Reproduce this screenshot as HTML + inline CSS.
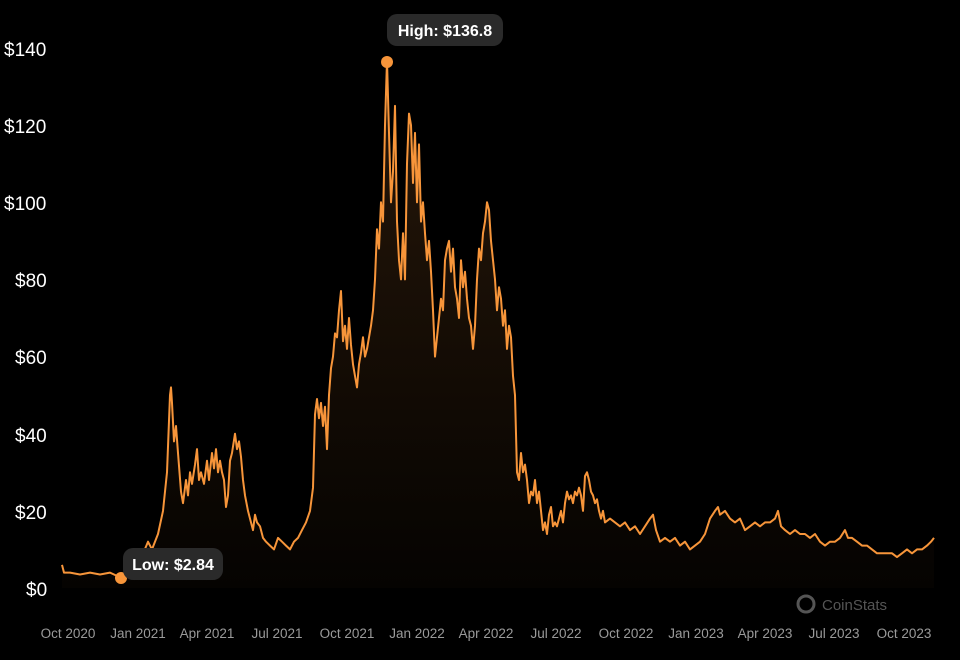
<!DOCTYPE html>
<html><head><meta charset="utf-8"><style>
html,body{margin:0;padding:0;background:#000;}
body{width:960px;height:655px;overflow:hidden;font-family:"Liberation Sans",sans-serif;}
</style></head><body>
<svg id="s" width="960" height="655" viewBox="0 0 960 655" xmlns="http://www.w3.org/2000/svg">
<defs>
<linearGradient id="g" x1="0" y1="0" x2="0" y2="1">
<stop offset="0" stop-color="#f7953a" stop-opacity="0.16"/>
<stop offset="1" stop-color="#f7953a" stop-opacity="0.02"/>
</linearGradient>
</defs>
<g font-size="19" fill="#fff" font-family="Liberation Sans, sans-serif">
<text x="4" y="56">$140</text>
<text x="4" y="133">$120</text>
<text x="4" y="210">$100</text>
<text x="15" y="287">$80</text>
<text x="15" y="364">$60</text>
<text x="15" y="442">$40</text>
<text x="15" y="519">$20</text>
<text x="26" y="596">$0</text>
</g>
<g font-size="13.5" fill="#9a9a9a" text-anchor="middle" font-family="Liberation Sans, sans-serif">
<text x="68" y="638">Oct 2020</text>
<text x="138" y="638">Jan 2021</text>
<text x="207" y="638">Apr 2021</text>
<text x="277" y="638">Jul 2021</text>
<text x="347" y="638">Oct 2021</text>
<text x="417" y="638">Jan 2022</text>
<text x="486" y="638">Apr 2022</text>
<text x="556" y="638">Jul 2022</text>
<text x="626" y="638">Oct 2022</text>
<text x="696" y="638">Jan 2023</text>
<text x="765" y="638">Apr 2023</text>
<text x="834" y="638">Jul 2023</text>
<text x="904" y="638">Oct 2023</text>
</g>
<path id="area" fill="url(#g)"/>
<path id="line" fill="none" stroke="#f7953a" stroke-width="2" stroke-linejoin="round"/>
<circle cx="121" cy="578" r="6" fill="#f7953a"/>
<circle cx="387" cy="62" r="6" fill="#f7953a"/>
<rect x="123" y="548" width="100" height="32" rx="10" fill="#2a2a2a"/>
<text x="173" y="570" font-size="16" font-weight="bold" fill="#fff" text-anchor="middle">Low: $2.84</text>
<rect x="387" y="14" width="116" height="32" rx="10" fill="#2a2a2a"/>
<text x="445" y="36" font-size="16" font-weight="bold" fill="#fff" text-anchor="middle">High: $136.8</text>
<circle cx="806" cy="604" r="8" fill="none" stroke="#555" stroke-width="3"/>
<text x="822" y="610" font-size="15" fill="#555">CoinStats</text>
</svg>
<script>
var d=[62,6,64,4,70,4,80,3.5,90,4,100,3.5,110,4,118,3,121,2.84,125,4,135,5,140,7,148,12,152,10,158,14,163,20,167,30,170,50,171,52,172,48,174,38,176,42,178,35,181,25,183,22,186,28,188,24,190,30,192,27,195,32,197,36,199,28,201,30,204,27,207,33,209,28,212,35,214,31,216,36,218,30,220,33,222,30,224,28,226,21,228,24,230,33,232,35,235,40,237,36,239,38,241,34,243,28,245,24,248,20,250,18,253,15,255,19,257,17,260,16,263,13,266,12,270,11,274,10,278,13,282,12,286,11,290,10,294,12,298,13,302,15,306,17,310,20,313,26,315,45,317,49,319,44,321,48,323,42,325,47,327,36,329,50,331,57,333,60,335,66,337,65,339,72,341,77,343,64,345,68,347,62,349,70,351,63,353,58,355,55,357,52,359,58,361,61,363,65,365,60,367,62,369,65,371,68,373,72,375,80,377,93,379,88,381,100,383,95,385,120,387,136.8,389,118,391,100,393,108,395,125,397,95,399,85,401,80,403,92,405,80,407,110,409,123,411,120,413,105,415,118,417,100,419,115,421,95,423,100,425,92,427,85,429,90,431,82,433,72,435,60,437,65,439,70,441,75,443,72,445,85,447,88,449,90,451,82,453,88,455,78,457,75,459,70,461,85,463,78,465,82,467,75,469,70,471,68,473,62,475,68,477,80,479,88,481,85,483,92,485,95,487,100,489,98,491,90,493,85,495,80,497,72,499,78,501,75,503,68,505,72,507,62,509,68,511,65,513,55,515,50,517,30,519,28,521,35,523,30,525,32,527,28,529,22,531,25,533,24,535,28,537,22,539,25,541,20,543,15,545,17,547,14,549,19,551,21,553,16,555,17,557,16,559,18,561,20,563,17,565,22,567,25,569,23,571,24,573,22,575,25,577,24,579,26,581,24,583,20,585,29,587,30,589,28,591,25,593,24,595,22,597,23,599,20,601,18,603,20,605,17,610,18,615,17,620,16,625,17,630,15,635,16,640,14,645,16,650,18,653,19,656,15,660,12,665,13,670,12,675,13,680,11,685,12,690,10,695,11,700,12,705,14,710,18,715,20,718,21,720,19,725,20,730,18,735,17,740,18,745,15,750,16,755,17,760,16,765,17,770,17,775,18,778,20,781,16,785,15,790,14,795,15,800,14,805,14,810,13,815,14,820,12,825,11,830,12,835,12,840,13,845,15,848,13,852,13,857,12,862,11,867,11,872,10,877,9,882,9,887,9,892,9,897,8,902,9,907,10,912,9,917,10,922,10,927,11,931,12,934,13];
var p="";for(var i=0;i<d.length;i+=2){var y=588-d[i+1]*3.857;p+=(i?"L":"M")+d[i]+","+y.toFixed(1);}
document.getElementById("line").setAttribute("d",p);
document.getElementById("area").setAttribute("d",p+"L934,588L62,588Z");
</script>
</body></html>
